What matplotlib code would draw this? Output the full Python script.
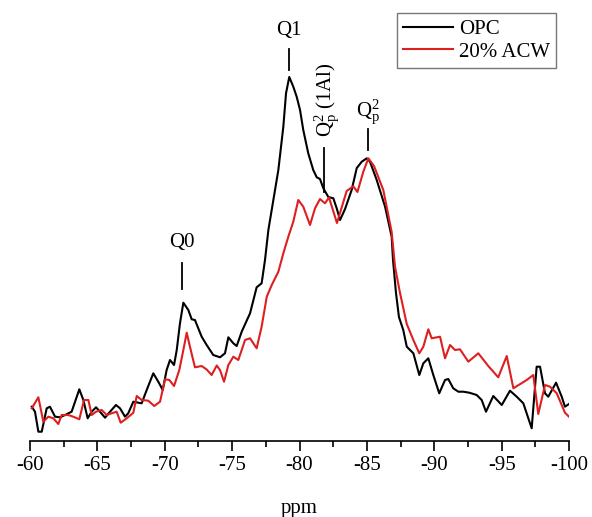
import numpy as np
import matplotlib.pyplot as plt

plt.rcParams['font.family'] = ['Liberation Serif', 'DejaVu Serif']
plt.rcParams['mathtext.fontset'] = 'custom'
plt.rcParams['mathtext.rm'] = 'Liberation Serif'
plt.rcParams['mathtext.it'] = 'Liberation Serif:italic'

# OPC spectrum (ppm, intensity a.u.)
opc_ppm = [-60.13, -60.37, -60.62, -60.87, -61.24, -61.48, -61.86, -62.23, -62.60, -63.09,
           -63.66, -63.96, -64.28, -64.58, -64.90, -65.19, -65.57, -65.94, -66.38, -66.68,
           -67.05, -67.29, -67.67, -68.04, -68.29, -68.66, -69.15, -69.52, -69.85, -70.14,
           -70.39, -70.69, -70.89, -71.13, -71.38, -71.75, -72.00, -72.24, -72.74, -73.11,
           -73.60, -74.10, -74.47, -74.72, -75.09, -75.34, -75.71, -76.33, -76.82, -77.19,
           -77.44, -77.69, -78.06, -78.43, -78.80, -79.00, -79.24, -79.54, -79.79, -80.04,
           -80.28, -80.65, -81.02, -81.28, -81.52, -81.77, -82.14, -82.51, -82.76, -83.01,
           -83.38, -83.87, -84.25, -84.62, -84.99, -85.23, -85.73, -86.35, -86.84, -86.94,
           -87.16, -87.38, -87.70, -87.96, -88.45, -88.89, -89.19, -89.56, -89.93, -90.37,
           -90.80, -91.04, -91.41, -91.79, -92.16, -92.60, -93.15, -93.52, -93.84, -94.38,
           -95.01, -95.62, -96.12, -96.61, -97.23, -97.60, -97.85, -98.22, -98.46, -99.04,
           -99.46, -99.70, -100.0]
opc_int = [35.3, 30.3, 10.3, 10.3, 33.7, 35.3, 25.3, 24.7, 27, 30.3,
           52.7, 42, 23.7, 30.3, 34.7, 30.3, 24.3, 30.3, 37, 33.7,
           25.3, 28.7, 40.3, 39.3, 38.7, 52, 68.7, 60.3, 52, 72,
           82, 77, 92, 118.7, 139.3, 132, 122.7, 122, 105.3, 97,
           87, 84.7, 88.7, 104.7, 98.7, 96, 110.3, 128.7, 154.7, 158.7,
           182, 212, 242, 272, 315.3, 348.7, 365, 355.3, 345.3, 332,
           312, 288.7, 272, 264.7, 263, 253.7, 245, 243.7, 233.7, 222,
           233, 252, 274, 280.3, 283.7, 280.3, 262, 235.3, 205.3, 182,
           149, 125, 112, 95.3, 88.7, 67, 78.7, 83.7, 67, 48.7,
           62, 63, 53.7, 50.3, 50.3, 49.3, 47, 42, 30.3, 46,
           37, 51.3, 45.3, 38.7, 13.7, 75.3, 75.3, 48.7, 45.3, 59.3,
           45.3, 35.3, 38]

# 20% ACW spectrum
acw_ppm = [-60.13, -60.62, -60.99, -61.36, -61.73, -62.10, -62.35, -62.84, -63.21, -63.66,
           -64.01, -64.33, -64.58, -64.90, -65.32, -65.69, -66.06, -66.43, -66.73, -67.18,
           -67.67, -67.92, -68.29, -68.78, -69.22, -69.65, -70.02, -70.34, -70.69, -71.08,
           -71.38, -71.63, -71.87, -72.24, -72.74, -73.11, -73.48, -73.86, -74.10, -74.40,
           -74.72, -75.09, -75.46, -75.96, -76.33, -76.82, -77.19, -77.57, -77.94, -78.43,
           -78.80, -79.17, -79.54, -79.91, -80.28, -80.78, -81.15, -81.52, -81.89, -82.19,
           -82.78, -83.50, -83.99, -84.30, -84.74, -85.11, -85.53, -86.22, -86.84, -87.09,
           -87.46, -87.96, -88.45, -88.89, -89.19, -89.56, -89.81, -90.43, -90.80, -91.17,
           -91.54, -91.91, -92.53, -93.27, -94.01, -94.75, -95.38, -95.87, -96.86, -97.35,
           -97.72, -98.22, -98.59, -99.09, -99.70, -100.0]
acw_int = [33.7, 44.7, 20.3, 25.3, 23.7, 18, 27, 27, 25.3, 22.7,
           42, 42, 27, 30.3, 32, 27, 28.7, 30.3, 19.3, 23.7,
           29.3, 46, 42, 41.3, 36, 40.3, 62.7, 62, 56, 72,
           92, 109.3, 95.3, 74.7, 76, 72.5, 67, 76.5, 72, 60.3,
           77, 85.3, 82, 102, 103.7, 93.7, 115.3, 145.3, 157, 170.3,
           188.7, 205.3, 220.3, 242, 235.3, 217, 233.7, 243, 238.7, 244.5,
           219, 251, 255.7, 250, 270.5, 283.7, 276, 252, 210, 175,
           149, 118, 102, 88.7, 95.3, 112.7, 103.7, 105.3, 83.7, 97,
           92, 92.7, 80.3, 88.7, 76, 64.7, 86, 53.7, 62, 67,
           28, 57, 55.3, 48.7, 29.3, 25.3]

xticks = [-60, -65, -70, -75, -80, -85, -90, -95, -100]

fig = plt.figure(figsize=(5.92, 5.17), dpi=100)
ax = fig.add_axes([30 / 592, 1 - 441 / 517, 539 / 592, 421 / 517])

ax.plot(opc_ppm, opc_int, color='black', lw=1.5, label='OPC')
ax.plot(acw_ppm, acw_int, color='#dd1f1f', lw=1.5, label='20% ACW')

ax.set_xlim(-60, -100)
ax.set_ylim(1, 422)
ax.set_xticks(xticks)
ax.set_xticklabels([str(t) for t in xticks])
ax.set_xticks(np.arange(-62.5, -100, -5), minor=True)
ax.tick_params(axis='x', which='major', direction='out', length=7, width=1.2, labelsize=15, pad=4)
ax.tick_params(axis='x', which='minor', direction='out', length=4, width=1.2)
ax.set_yticks([])
for s in ['left', 'right', 'top']:
    ax.spines[s].set_visible(False)
ax.spines['bottom'].set_linewidth(1.2)
ax.set_xlabel('ppm', fontsize=15, labelpad=17)

# peak markers
ax.plot([-79.2, -79.2], [372, 393], color='black', lw=1.3)
ax.text(-79.2, 412, 'Q1', ha='center', va='center', fontsize=15)
ax.plot([-71.25, -71.25], [153, 179], color='black', lw=1.3)
ax.text(-71.25, 200, 'Q0', ha='center', va='center', fontsize=15)
ax.plot([-85.08, -85.08], [292, 313], color='black', lw=1.3)
ax.text(-85.08, 330, r'$\mathrm{Q}_\mathrm{p}^{2}$', ha='center', va='center', fontsize=15)
ax.plot([-81.84, -81.84], [250, 294], color='black', lw=1.3)
ax.text(-82.0, 342, r'$\mathrm{Q}_\mathrm{p}^{2}$ (1Al)', ha='center', va='center',
        rotation=90, fontsize=15)

leg = ax.legend(loc='upper right', bbox_to_anchor=(556 / 592, 1 - 13 / 517),
                bbox_transform=fig.transFigure, fontsize=15, frameon=True, fancybox=False,
                handlelength=2.4, handletextpad=0.25, borderpad=0.3, labelspacing=0.15,
                borderaxespad=0)
leg.get_frame().set_edgecolor('#555555')
leg.get_frame().set_linewidth(1.0)

fig.savefig('out.png', dpi=100)
